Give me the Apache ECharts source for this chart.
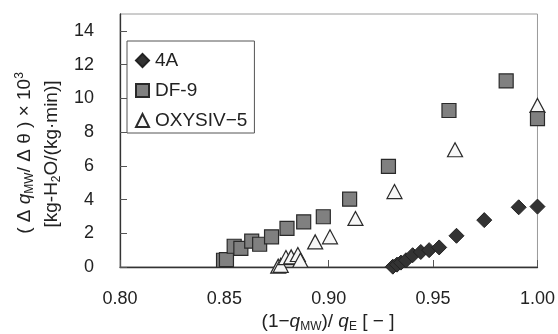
<!DOCTYPE html>
<html><head><meta charset="utf-8">
<script src="https://cdn.jsdelivr.net/npm/echarts@6/dist/echarts.min.js"></script>
<style>html,body{margin:0;padding:0;background:#fff}#c{width:558px;height:334px}</style>
</head><body><div id="c"></div>
<script>
// ---- data ----
const seriesNames = ['4A', 'DF-9', 'OXYSIV\u22125'];
const xTicks = [0.80, 0.85, 0.90, 0.95, 1.00];
const yTicks = [0, 2, 4, 6, 8, 10, 12, 14];
const data4A = [
  [0.9307, 0.02], [0.9327, 0.14], [0.9346, 0.26], [0.9370, 0.40], [0.9402, 0.70],
  [0.9441, 0.89], [0.9481, 1.00], [0.9529, 1.16], [0.9612, 1.85], [0.9745, 2.78],
  [0.9910, 3.54], [1.0000, 3.58]
];
const dataDF9 = [
  [0.8496, 0.40], [0.8510, 0.44], [0.8547, 1.23], [0.8579, 1.10], [0.8631, 1.53],
  [0.8669, 1.35], [0.8726, 1.79], [0.8800, 2.29], [0.8880, 2.68], [0.8974, 2.98],
  [0.9100, 4.02], [0.9286, 5.96], [0.9576, 9.28], [0.9850, 11.03], [1.0000, 8.80]
];
const dataOXY = [
  [0.8758, 0.05], [0.8770, 0.10], [0.8795, 0.56], [0.8820, 0.60], [0.8852, 0.74],
  [0.8864, 0.40], [0.8935, 1.49], [0.9006, 1.79], [0.9128, 2.88], [0.9315, 4.47],
  [0.9605, 6.95], [1.0000, 9.58]
];

const FONT = 'Liberation Sans, Arial, sans-serif';
const TFS = 19;
const chart = echarts.init(document.getElementById('c'), null, {renderer: 'canvas'});
chart.setOption({
  animation: false,
  backgroundColor: '#fff',
  textStyle: {fontFamily: FONT},
  grid: {left: 120, right: 17, top: 14, bottom: 67, show: true, borderColor: '#9a9a9a', borderWidth: 1},
  xAxis: {
    type: 'value', min: xTicks[0], max: xTicks[xTicks.length - 1], interval: 0.05,
    axisLine: {lineStyle: {color: '#333', width: 1.3}},
    axisTick: {inside: true, length: 7, lineStyle: {color: '#555'}},
    splitLine: {show: false},
    axisLabel: {color: '#222', fontSize: 18, margin: 23, fontFamily: FONT,
      formatter: v => v.toFixed(2)}
  },
  yAxis: {
    type: 'value', min: 0, max: 15, interval: 2,
    axisLine: {lineStyle: {color: '#333', width: 1.3}},
    axisTick: {inside: true, length: 7, lineStyle: {color: '#555'}},
    splitLine: {show: false},
    axisLabel: {color: '#222', fontSize: 18, margin: 26, fontFamily: FONT, showMaxLabel: false,
      formatter: v => (yTicks.indexOf(v) >= 0 ? String(v) : '')}
  },
  legend: {
    orient: 'vertical', left: 127, top: 41,
    backgroundColor: '#fff', borderColor: '#555', borderWidth: 1,
    padding: [10, 7, 3, 8], itemGap: 11, itemWidth: 13, itemHeight: 13,
    textStyle: {fontSize: 19, color: '#222', fontFamily: FONT, padding: [0, 0, 0, 1]},
    data: seriesNames
  },
  series: [
    {name: seriesNames[0], type: 'scatter', data: data4A, symbol: 'diamond', symbolSize: 15, z: 4,
      itemStyle: {color: '#333', borderColor: '#222', borderWidth: 1, opacity: 1}},
    {name: seriesNames[1], type: 'scatter', data: dataDF9, symbol: 'rect', symbolSize: 14, z: 3,
      itemStyle: {color: '#808080', borderColor: '#2a2a2a', borderWidth: 1.2, opacity: 1}},
    {name: seriesNames[2], type: 'scatter', data: dataOXY, symbol: 'triangle', symbolSize: [15, 14], z: 2,
      itemStyle: {color: '#f7f7f7', borderColor: '#2a2a2a', borderWidth: 1.2, opacity: 1}}
  ],
  graphic: [
    {type: 'text', x: 25, y: 153, rotation: Math.PI / 2, z: 10,
      style: {text: '( \u0394 {i|q}{sub|MW}/ \u0394 \u03b8 ) \u00d7 10{sup|3}', fill: '#222',
        font: TFS + 'px ' + FONT, align: 'center', verticalAlign: 'middle',
        rich: {
          i: {fontSize: TFS, fontStyle: 'italic', fontFamily: FONT, fill: '#222'},
          sub: {fontSize: 12, verticalAlign: 'bottom', fontFamily: FONT, fill: '#222', lineHeight: 22},
          sup: {fontSize: 12, verticalAlign: 'top', fontFamily: FONT, fill: '#222', lineHeight: 22}
        }}},
    {type: 'text', x: 52, y: 154, rotation: Math.PI / 2, z: 10,
      style: {text: '[kg-H{sub|2}O/(kg\u00b7min)]', fill: '#222',
        font: TFS + 'px ' + FONT, align: 'center', verticalAlign: 'middle',
        rich: {
          sub: {fontSize: 12, verticalAlign: 'bottom', fontFamily: FONT, fill: '#222', lineHeight: 22}
        }}},
    {type: 'text', x: 328, y: 322, z: 10,
      style: {text: '(1\u2212{i|q}{sub|MW})/ {i|q}{sub|E} [ \u2212 ]', fill: '#222',
        font: TFS + 'px ' + FONT, align: 'center', verticalAlign: 'middle',
        rich: {
          i: {fontSize: TFS, fontStyle: 'italic', fontFamily: FONT, fill: '#222'},
          sub: {fontSize: 12, verticalAlign: 'bottom', fontFamily: FONT, fill: '#222', lineHeight: 22}
        }}}
  ]
});
</script></body></html>
